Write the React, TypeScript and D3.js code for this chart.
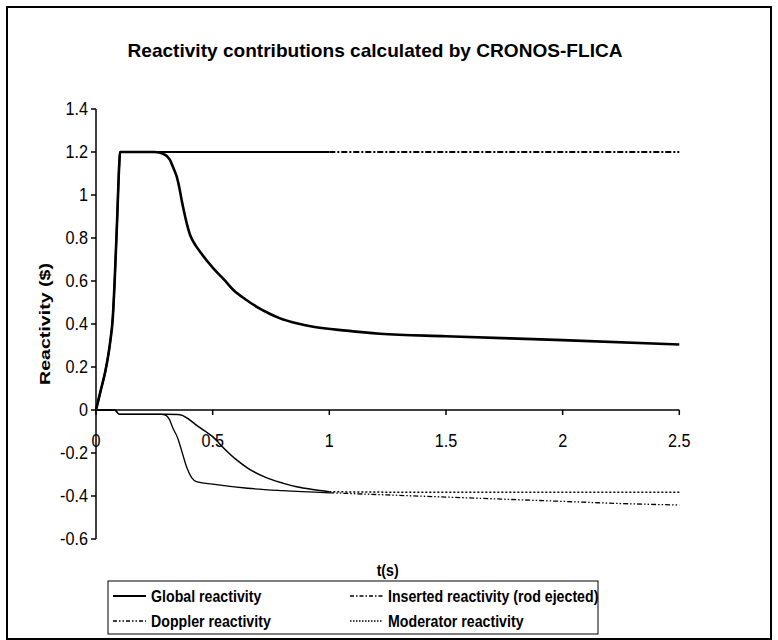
import React from "react";
import * as d3 from "d3";

const titleText = "Reactivity contributions calculated by CRONOS-FLICA";
const yAxisTitle = "Reactivity ($)";
const xAxisTitle = "t(s)";

const xTicks = [0, 0.5, 1, 1.5, 2, 2.5];
const xTickLabels = ["0", "0.5", "1", "1.5", "2", "2.5"];
const yTicks = [1.4, 1.2, 1, 0.8, 0.6, 0.4, 0.2, 0, -0.2, -0.4, -0.6];
const yTickLabels = ["1.4", "1.2", "1", "0.8", "0.6", "0.4", "0.2", "0", "-0.2", "-0.4", "-0.6"];

const globalT = [0, 0.02, 0.04, 0.06, 0.072, 0.08, 0.09, 0.1, 0.103, 0.15, 0.2, 0.25, 0.27, 0.29, 0.305, 0.317, 0.33, 0.346, 0.357, 0.367, 0.378, 0.389, 0.403, 0.417, 0.45, 0.503, 0.55, 0.589, 0.64, 0.689, 0.74, 0.789, 0.86, 0.931, 1.074, 1.217, 1.5, 2.0, 2.5];
const globalV = [0, 0.09, 0.18, 0.31, 0.43, 0.6, 0.87, 1.15, 1.2, 1.2, 1.2, 1.2, 1.198, 1.19, 1.18, 1.163, 1.13, 1.085, 1.035, 0.977, 0.92, 0.868, 0.815, 0.783, 0.73, 0.659, 0.605, 0.558, 0.515, 0.48, 0.45, 0.426, 0.403, 0.387, 0.369, 0.355, 0.343, 0.325, 0.305];

const insertedT = [0, 0.02, 0.04, 0.06, 0.072, 0.08, 0.09, 0.1, 0.103, 0.5, 1.0, 1.5, 2.0, 2.5];
const insertedV = [0, 0.09, 0.18, 0.31, 0.43, 0.6, 0.87, 1.15, 1.2, 1.2, 1.2, 1.2, 1.2, 1.2];

const dopplerT = [0, 0.08, 0.1, 0.2, 0.28, 0.3, 0.315, 0.33, 0.35, 0.37, 0.39, 0.41, 0.43, 0.5, 0.65, 0.8, 1.0, 1.25, 1.5, 1.75, 2.0, 2.25, 2.5];
const dopplerV = [0, 0, -0.02, -0.02, -0.02, -0.025, -0.045, -0.085, -0.13, -0.2, -0.27, -0.315, -0.333, -0.345, -0.364, -0.375, -0.385, -0.395, -0.405, -0.415, -0.425, -0.435, -0.442];

const moderatorT = [0, 0.08, 0.1, 0.3, 0.35, 0.37, 0.4, 0.43, 0.47, 0.5, 0.55, 0.6, 0.65, 0.72, 0.8, 0.86, 0.93, 1.0, 1.25, 1.5, 2.0, 2.5];
const moderatorV = [0, 0, -0.02, -0.02, -0.021, -0.025, -0.045, -0.07, -0.1, -0.124, -0.18, -0.23, -0.27, -0.31, -0.34, -0.357, -0.37, -0.38, -0.382, -0.382, -0.382, -0.382];

const legendLabels = ["Global reactivity", "Inserted reactivity (rod ejected)", "Doppler reactivity", "Moderator reactivity"];

const W = 778;
const H = 640;
const sans = "'Liberation Sans', Arial, sans-serif";
const SX = 0.86;

type Pt = [number, number];

function NText(props: { x: number; y: number; anchor?: string; size: number; bold?: boolean; children: React.ReactNode; sx?: number }) {
  const { x, y, anchor, size, bold, children, sx } = props;
  return (
    <text
      transform={`translate(${x},${y}) scale(${sx ?? SX},1)`}
      dy="0.35em"
      textAnchor={anchor ?? "start"}
      fontFamily={sans}
      fontWeight={bold ? "bold" : "normal"}
      fontSize={size}
    >
      {children}
    </text>
  );
}

export default function App() {
  const x = d3.scaleLinear().domain([0, 2.5]).range([96, 679.3]);
  const y = d3.scaleLinear().domain([-0.6, 1.4]).range([539, 109]);
  const line = d3.line<Pt>().x((d) => x(d[0])).y((d) => y(d[1])).curve(d3.curveMonotoneX);

  const zip = (t: number[], v: number[]): Pt[] => t.map((tt, i) => [tt, v[i]]);
  const split = (pts: Pt[], at: number) => [pts.filter((p) => p[0] <= at), pts.filter((p) => p[0] >= at)];

  const series = [
    { pts: zip(insertedT, insertedV), w: 2, dash: "6,2,2,2", solidUntil: 1.0 },
    { pts: zip(dopplerT, dopplerV), w: 1.3, dash: "5,2,1.5,2,1.5,2", solidUntil: 1.0 },
    { pts: zip(moderatorT, moderatorV), w: 1.5, dash: "2,2", solidUntil: 1.0 },
    { pts: zip(globalT, globalV), w: 2.6, dash: "", solidUntil: 3 },
  ];

  const legendItems = [
    { label: legendLabels[0], w: 2, dash: "", lx: 113, ly: 596 },
    { label: legendLabels[1], w: 1.3, dash: "4,2,1.5,2", lx: 350, ly: 596 },
    { label: legendLabels[2], w: 1.3, dash: "4,2,1.5,2,1.5,2", lx: 113, ly: 621 },
    { label: legendLabels[3], w: 1.3, dash: "1.5,1.5", lx: 350, ly: 621 },
  ];

  return (
    <svg width={W} height={H} style={{ position: "absolute", left: 0, top: 0, background: "#fff" }}>
      <rect x={0} y={0} width={W} height={H} fill="#fff" />
      <rect x={7} y={7} width={764} height={632} fill="none" stroke="#000" strokeWidth={2} />
      <text x={375} y={57} textAnchor="middle" fontFamily={sans} fontWeight="bold" fontSize={19} textLength={495} lengthAdjust="spacingAndGlyphs">
        {titleText}
      </text>

      {/* y axis */}
      <line x1={x(0)} x2={x(0)} y1={y(1.4)} y2={y(-0.6)} stroke="#000" strokeWidth={1.5} />
      {yTicks.map((v, i) => (
        <g key={"y" + i}>
          <line x1={x(0) - 5} x2={x(0)} y1={y(v)} y2={y(v)} stroke="#000" strokeWidth={1.5} />
          <NText x={x(0) - 8} y={y(v)} anchor="end" size={18} sx={0.9}>
            {yTickLabels[i]}
          </NText>
        </g>
      ))}
      <text transform={`translate(45,${y(0.4)}) rotate(-90)`} dy="0.35em" textAnchor="middle" fontFamily={sans} fontWeight="bold" fontSize={15} textLength={122} lengthAdjust="spacingAndGlyphs">
        {yAxisTitle}
      </text>

      {/* x axis at y=0 */}
      <line x1={x(0)} x2={x(2.5)} y1={y(0)} y2={y(0)} stroke="#000" strokeWidth={1.5} />
      {xTicks.map((t, i) => (
        <g key={"x" + i}>
          <line x1={x(t)} x2={x(t)} y1={y(0)} y2={y(0) + 5} stroke="#000" strokeWidth={1.5} />
          <NText x={x(t)} y={y(0) + 31} anchor="middle" size={18} sx={0.9}>
            {xTickLabels[i]}
          </NText>
        </g>
      ))}
      <NText x={(x(0) + x(2.5)) / 2} y={570} anchor="middle" size={16.5} bold>
        {xAxisTitle}
      </NText>

      {/* series */}
      {series.map((s, i) => {
        const [a, b] = split(s.pts, s.solidUntil);
        return (
          <g key={"s" + i} fill="none" stroke="#000" strokeLinejoin="round">
            <path d={line(a) || ""} strokeWidth={s.w} />
            {b.length > 1 && <path d={line(b) || ""} strokeWidth={s.w} strokeDasharray={s.dash} />}
          </g>
        );
      })}

      {/* legend */}
      <rect x={108} y={581} width={490} height={53} fill="#fff" stroke="#000" strokeWidth={1} />
      {legendItems.map((it, i) => (
        <g key={"l" + i}>
          <line x1={it.lx} x2={it.lx + 33} y1={it.ly} y2={it.ly} stroke="#000" strokeWidth={it.w} strokeDasharray={it.dash} />
          <NText x={it.lx + 38} y={it.ly} size={16.5} bold>
            {it.label}
          </NText>
        </g>
      ))}
    </svg>
  );
}
